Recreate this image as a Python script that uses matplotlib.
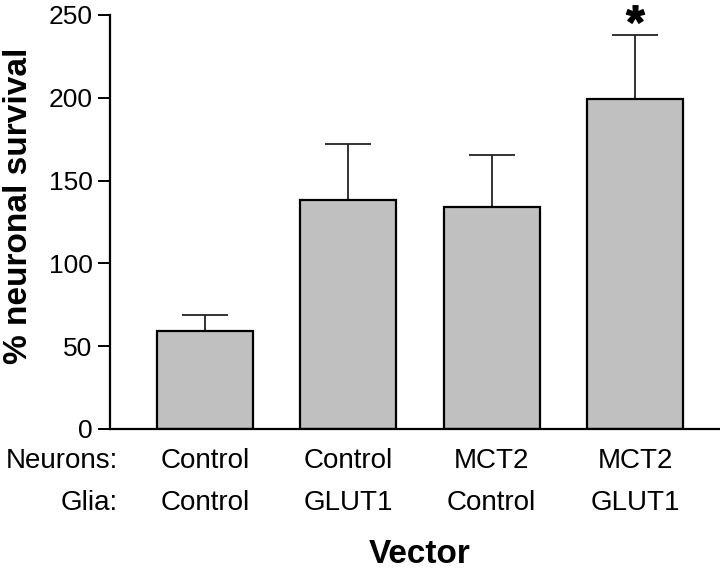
import matplotlib
matplotlib.use("Agg")
import matplotlib.pyplot as plt

plt.rcParams['font.family'] = ['Liberation Sans', 'DejaVu Sans']
plt.rcParams['mathtext.fontset'] = 'custom'
plt.rcParams['mathtext.rm'] = 'Liberation Sans'
plt.rcParams['mathtext.bf'] = 'Liberation Sans:bold'

# datos
neurons = ["Control", "Control", "MCT2", "MCT2"]
glia = ["Control", "GLUT1", "Control", "GLUT1"]
survival = [59.2, 138.3, 134.1, 199.3]
sem = [9.6, 33.8, 31.4, 38.6]
significant = [False, False, False, True]
yticks = [0, 50, 100, 150, 200, 250]

fig = plt.figure(figsize=(7.2, 5.72), dpi=100)
ax = fig.add_axes([110 / 720, 1 - 429 / 572, 610 / 720, 414 / 572])

x = list(range(len(survival)))
ax.bar(x, survival, width=0.67, color="#c0c0c0", edgecolor="black", linewidth=1.6, zorder=2)
ax.errorbar(x, survival, yerr=[[0] * len(sem), sem], fmt="none", ecolor="#222222",
            elinewidth=1.3, capsize=16.5, capthick=1.3, zorder=1)

#asterisco de significancia (como marcador)
for xi, (v, e, s) in enumerate(zip(survival, sem, significant)):
    if s:
        ax.plot(xi, v + e + 13, marker=r"$\mathbf{*}$", ms=13, color="black",
                linestyle="none", clip_on=False)

ax.set_xlim(-0.663, 3.593)
ax.set_ylim(0, 250)
ax.set_yticks(yticks)
ax.set_xticks([])
ax.tick_params(axis="y", labelsize=19, length=8.5, width=1.4, pad=4)
for side in ["top", "right"]:
    ax.spines[side].set_visible(False)
for side in ["left", "bottom"]:
    ax.spines[side].set_linewidth(1.6)

tr = ax.get_xaxis_transform()
ax.text(-0.607, -39 / 414, "Neurons:", transform=tr, ha="right", va="baseline", fontsize=20)
ax.text(-0.607, -81 / 414, "Glia:", transform=tr, ha="right", va="baseline", fontsize=20)
for xi in x:
    ax.text(xi, -39 / 414, neurons[xi], transform=tr, ha="center", va="baseline", fontsize=20)
    ax.text(xi, -81 / 414, glia[xi], transform=tr, ha="center", va="baseline", fontsize=20)
ax.text(1.5, -134 / 414, "Vector", transform=tr, ha="center", va="baseline",
        fontsize=24, fontweight="bold")

ax.set_ylabel("% neuronal survival", fontsize=24, fontweight="bold")
ax.yaxis.set_label_coords(-0.125, 0.54)

fig.savefig("out.png", dpi=100)
